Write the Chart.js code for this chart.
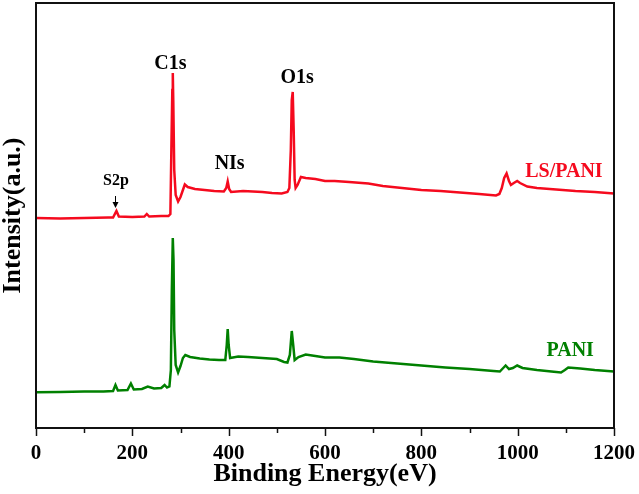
<!DOCTYPE html>
<html>
<head>
<meta charset="utf-8">
<script src="https://cdn.jsdelivr.net/npm/chart.js@4.4.1/dist/chart.umd.min.js"></script>
<style>
  html, body { margin: 0; padding: 0; background: #fff; }
  canvas { display: block; }
</style>
</head>
<body>
<canvas id="c" width="639" height="494"></canvas>
<script>
// ---- Data ----
const xTicks = [0, 200, 400, 600, 800, 1000, 1200];

const lsPaniEnergy = [0, 50, 100, 150, 160, 167, 172, 200, 225, 230, 235, 260, 275, 279, 281, 283, 284, 285, 287, 290, 295, 300, 305, 309, 315, 330, 350, 370, 390, 395, 398, 401, 405, 430, 450, 470, 490, 510, 522, 526, 529, 531, 533, 535, 537, 539, 543, 550, 560, 580, 600, 620, 650, 690, 720, 760, 800, 840, 880, 900, 920, 955, 962, 967, 972, 977, 982, 986, 992, 999, 1005, 1020, 1040, 1080, 1120, 1160, 1200];
const lsPaniIntensity = [210, 209.5, 210, 210.5, 210.5, 217, 211.5, 211, 211.5, 214, 211.5, 212, 212, 214, 278, 338, 355, 328, 258, 233, 226.5, 231, 238, 243.5, 241, 239, 238, 237, 236.5, 240, 246.5, 239, 236, 237, 236.5, 236, 235, 234.5, 236, 240, 278, 328, 336, 298, 248, 240, 243, 251, 250, 249, 247, 247, 246, 244.5, 242, 240, 238, 237, 235.5, 234.7, 234, 232.5, 234, 240, 250, 254.5, 247, 243, 245, 247, 245, 241.5, 240, 238.5, 237, 236, 234.5];

const paniEnergy = [0, 50, 100, 140, 160, 165, 170, 190, 197, 203, 220, 232, 245, 260, 267, 272, 277, 280, 282, 284, 285.5, 287, 290, 295, 300, 305, 310, 320, 340, 360, 380, 393, 396, 398, 400, 403, 420, 440, 470, 500, 515, 522, 527, 531, 534, 537, 545, 560, 580, 600, 630, 660, 700, 750, 800, 850, 900, 950, 963, 970, 975, 982, 990, 999, 1010, 1040, 1070, 1090, 1098, 1105, 1130, 1160, 1200];
const paniIntensity = [35.7, 36, 36.5, 36.5, 37, 43, 37.5, 38, 44.5, 38.5, 39, 41.5, 39.5, 40, 43, 40.5, 41.5, 58, 138, 190, 168, 98, 63, 55.5, 62, 70, 73, 71, 69.5, 68.5, 68, 68, 83, 99, 83, 70, 71.5, 71, 70, 69, 66, 65.5, 73, 97, 83, 68, 71, 73.5, 72, 70.5, 70.5, 69, 66.5, 64.5, 62.5, 60.5, 59, 57, 56.5, 60, 62.5, 59, 60, 62.5, 60, 58, 56.5, 55.5, 58, 60.5, 59.5, 58, 56.5];

const peakLabels = ['C1s', 'NIs', 'O1s', 'S2p'];
const peakLabelEnergy = [279, 402, 542, 166];
const peakLabelIntensity = [364, 264, 350.5, 247];

const seriesNames = ['LS/PANI', 'PANI'];
const seriesLabelEnergy = [1096, 1109];
const seriesLabelIntensity = [256.5, 77];

const arrowEnergy = 165;
const arrowFrom = 232;
const arrowTo = 220;

// ---- Styles ----
const RED = 'rgb(245,10,30)';
const GREEN = 'rgb(0,128,0)';
const FONT = '"Liberation Serif", "Times New Roman", serif';

function toPoints(xs, ys) { return xs.map((x, i) => ({ x: x, y: ys[i] })); }

const framePlugin = {
  id: 'frame',
  afterDatasetsDraw(chart) {
    const { ctx, chartArea: a, scales } = chart;
    const xs = scales.x, ys = scales.y;
    ctx.save();
    // tick marks (major every 200, minor every 100)
    ctx.strokeStyle = '#111';
    ctx.lineWidth = 1.5;
    xs.ticks.forEach(t => {
      const px = Math.round(xs.getPixelForValue(t.value)) + 0.5;
      const len = (t.value % 200 === 0) ? 8 : 5;
      ctx.beginPath();
      ctx.moveTo(px, a.bottom);
      ctx.lineTo(px, a.bottom + len);
      ctx.stroke();
    });
    // frame
    ctx.lineWidth = 2;
    ctx.strokeRect(a.left, a.top, a.right - a.left, a.bottom - a.top);

    // peak labels
    ctx.textAlign = 'center';
    ctx.textBaseline = 'middle';
    ctx.fillStyle = '#000';
    peakLabels.forEach((txt, i) => {
      const size = txt === 'S2p' ? 16 : 20;
      ctx.font = 'bold ' + size + 'px ' + FONT;
      ctx.fillText(txt, xs.getPixelForValue(peakLabelEnergy[i]), ys.getPixelForValue(peakLabelIntensity[i]));
    });
    // series labels
    ctx.font = 'bold 20px ' + FONT;
    [RED, GREEN].forEach((col, i) => {
      ctx.fillStyle = col;
      ctx.fillText(seriesNames[i], xs.getPixelForValue(seriesLabelEnergy[i]), ys.getPixelForValue(seriesLabelIntensity[i]));
    });
    // arrow for S2p
    const ax = Math.round(xs.getPixelForValue(arrowEnergy)) + 0.5;
    const ay1 = ys.getPixelForValue(arrowFrom);
    const ay2 = ys.getPixelForValue(arrowTo);
    ctx.strokeStyle = '#000';
    ctx.fillStyle = '#000';
    ctx.lineWidth = 1;
    ctx.beginPath();
    ctx.moveTo(ax, ay1);
    ctx.lineTo(ax, ay2 - 5);
    ctx.stroke();
    ctx.beginPath();
    ctx.moveTo(ax - 3, ay2 - 6);
    ctx.lineTo(ax + 3, ay2 - 6);
    ctx.lineTo(ax, ay2);
    ctx.closePath();
    ctx.fill();
    ctx.restore();
  }
};

new Chart(document.getElementById('c'), {
  type: 'line',
  data: {
    datasets: [
      {
        label: seriesNames[0],
        data: toPoints(lsPaniEnergy, lsPaniIntensity),
        borderColor: RED,
        borderWidth: 2.5,
        pointRadius: 0,
        tension: 0,
        fill: false
      },
      {
        label: seriesNames[1],
        data: toPoints(paniEnergy, paniIntensity),
        borderColor: GREEN,
        borderWidth: 2.5,
        pointRadius: 0,
        tension: 0,
        fill: false
      }
    ]
  },
  options: {
    responsive: false,
    devicePixelRatio: 1,
    animation: false,
    events: [],
    layout: { padding: { top: 3, right: 25, bottom: 0, left: 0 } },
    plugins: { legend: { display: false }, tooltip: { enabled: false } },
    scales: {
      x: {
        type: 'linear',
        min: 0,
        max: 1200,
        afterFit(s) { s.height = 66; s.paddingLeft = 0; s.paddingRight = 0; },
        afterBuildTicks(s) {
          const t = [];
          for (let v = 0; v <= 1200; v += 100) t.push({ value: v });
          s.ticks = t;
        },
        grid: { display: false, drawTicks: false },
        border: { display: false },
        ticks: {
          padding: 13,
          maxRotation: 0,
          autoSkip: false,
          color: '#000',
          font: { family: FONT, size: 21, weight: 'bold' },
          callback: v => (xTicks.includes(v) ? String(v) : '')
        },
        title: {
          display: true,
          text: 'Binding Energy(eV)',
          color: '#000',
          font: { family: FONT, size: 26, weight: 'bold', lineHeight: 1 },
          padding: { top: 0, bottom: 7 }
        }
      },
      y: {
        min: 0,
        max: 425,
        afterFit(s) { s.width = 36; s.paddingTop = 0; s.paddingBottom = 0; },
        grid: { display: false, drawTicks: false },
        border: { display: false },
        ticks: { display: false },
        title: {
          display: true,
          text: 'Intensity(a.u.)',
          color: '#000',
          font: { family: FONT, size: 26, weight: 'bold', lineHeight: 1 },
          padding: { top: 0, bottom: 0 }
        }
      }
    }
  },
  plugins: [framePlugin]
});
</script>
</body>
</html>
